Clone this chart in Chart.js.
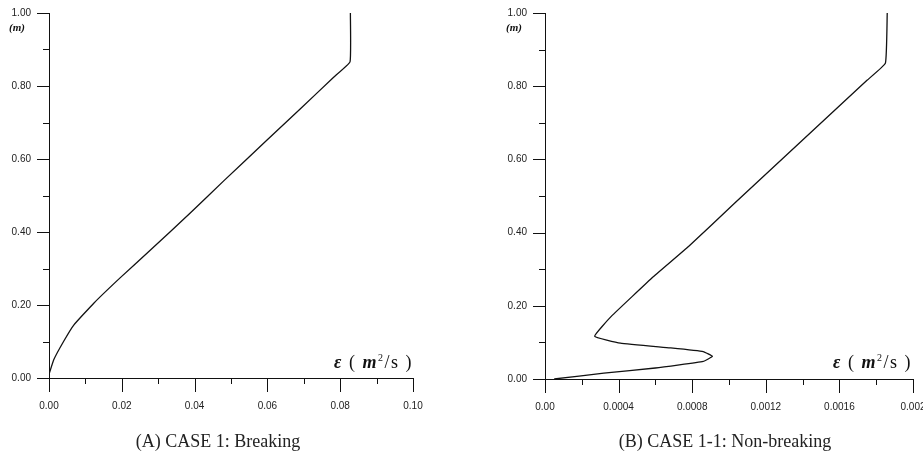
<!DOCTYPE html>
<html>
<head>
<meta charset="utf-8">
<script src="https://cdn.jsdelivr.net/npm/chart.js@4"></script>
<style>
  body { margin: 0; background: #fff; }
  #wrap { position: relative; width: 923px; height: 466px; overflow: hidden; }
  canvas { position: absolute; top: 0; }
  .unit { position: absolute; font-family: "Liberation Serif", serif; font-weight: bold; font-style: italic; font-size: 11px; color: #111; }
  .xtitle { position: absolute; font-family: "Liberation Serif", serif; font-size: 18px; letter-spacing: 1.5px; color: #111; white-space: nowrap; }
  .xtitle i { font-weight: bold; }
  .caption { position: absolute; font-family: "Liberation Serif", serif; font-size: 18px; color: #222; white-space: nowrap; transform: translateX(-50%); }
</style>
</head>
<body>
<div id="wrap">
  <canvas id="chartA" width="460" height="466" style="left:0px"></canvas>
  <canvas id="chartB" width="463" height="466" style="left:460px"></canvas>
  <div class="unit" style="left:9px; top:21px">(m)</div>
  <div class="unit" style="left:506px; top:21px">(m)</div>
  <div class="xtitle" style="left:334px; top:352px"><i>ε</i> ( <i>m</i><sup style="font-size:10px">2</sup>/s )</div>
  <div class="xtitle" style="left:833px; top:352px"><i>ε</i> ( <i>m</i><sup style="font-size:10px">2</sup>/s )</div>
  <div class="caption" style="left:218px; top:431px">(A) CASE 1: Breaking</div>
  <div class="caption" style="left:725px; top:431px">(B) CASE 1-1: Non-breaking</div>
</div>
<script>
// depth (m) vs eddy viscosity
const depthLabels = ['0.00', '0.20', '0.40', '0.60', '0.80', '1.00'];

// (A) breaking
const breakEps = [0.0000, 0.0013, 0.0040, 0.0068, 0.0123, 0.0196, 0.0278, 0.0388, 0.0480, 0.0599, 0.0690, 0.0782, 0.0827, 0.0828];
const breakDepth = [0.01, 0.05, 0.10, 0.145, 0.205, 0.275, 0.35, 0.452, 0.540, 0.652, 0.737, 0.824, 0.866, 1.00];
const breakXLabels = ['0.00', '0.02', '0.04', '0.06', '0.08', '0.10'];

// (B) non-breaking
const nonBreakEps = [0.00005, 0.00032, 0.00060, 0.00086, 0.00091, 0.00086, 0.00068, 0.00041, 0.00027, 0.00036, 0.00059, 0.00078, 0.00103, 0.00139, 0.00175, 0.00185, 0.00186];
const nonBreakDepth = [0.00, 0.016, 0.030, 0.048, 0.062, 0.075, 0.085, 0.098, 0.117, 0.171, 0.28, 0.362, 0.48, 0.648, 0.816, 0.863, 1.00];
const nonBreakXLabels = ['0.00', '0.0004', '0.0008', '0.0012', '0.0016', '0.002'];

const tickMarks = {
    id: 'tickMarks',
    afterDraw(chart) {
        const ctx = chart.ctx;
        const xs = chart.scales.x, ys = chart.scales.y;
        const area = chart.chartArea;
        ctx.save();
        ctx.strokeStyle = '#111';
        ctx.lineWidth = 1;
        ctx.beginPath();
        xs.ticks.forEach(function (t) {
            const px = Math.round(xs.getPixelForValue(t.value)) + 0.5;
            const len = t.label !== '' ? 14 : 6;
            ctx.moveTo(px, area.bottom);
            ctx.lineTo(px, area.bottom + len);
        });
        ys.ticks.forEach(function (t) {
            const py = Math.round(ys.getPixelForValue(t.value)) + 0.5;
            const len = t.label !== '' ? 12 : 6;
            ctx.moveTo(area.left, py);
            ctx.lineTo(area.left - len, py);
        });
        ctx.stroke();
        ctx.restore();
    }
};

function makeChart(id, eps, depth, xMax, xStep, xLabels, pad, yw) {
    const pts = eps.map(function (e, i) { return { x: e, y: depth[i] }; });
    return new Chart(document.getElementById(id), {
        type: 'scatter',
        data: {
            datasets: [{
                data: pts,
                showLine: true,
                borderColor: '#111',
                borderWidth: 1.3,
                pointRadius: 0,
                tension: 0.1,
            }]
        },
        options: {
            responsive: false,
            animation: false,
            layout: { padding: pad },
            plugins: { legend: { display: false }, tooltip: { enabled: false } },
            scales: {
                x: {
                    type: 'linear',
                    min: 0,
                    max: xMax,
                    afterFit: function (s) {
                        s.height = 40;
                        s.paddingLeft = 0;
                        s.paddingRight = 0;
                    },
                    grid: { drawOnChartArea: false, drawTicks: false },
                    border: { color: '#111', width: 1 },
                    ticks: {
                        stepSize: xStep,
                        autoSkip: false,
                        maxRotation: 0,
                        padding: 22,
                        color: '#222',
                        font: { family: 'Liberation Sans', size: 10 },
                        callback: function (v) {
                            const i = Math.round(v / xStep);
                            return i % 2 === 0 ? xLabels[i / 2] : '';
                        }
                    }
                },
                y: {
                    type: 'linear',
                    min: 0,
                    max: 1,
                    afterFit: function (s) {
                        s.width = yw;
                        s.paddingTop = 0;
                        s.paddingBottom = 0;
                    },
                    grid: { drawOnChartArea: false, drawTicks: false },
                    border: { color: '#111', width: 1 },
                    ticks: {
                        stepSize: 0.1,
                        autoSkip: false,
                        padding: 18,
                        color: '#222',
                        font: { family: 'Liberation Sans', size: 10 },
                        callback: function (v) {
                            const i = Math.round(v / 0.1);
                            return i % 2 === 0 ? depthLabels[i / 2] : '';
                        }
                    }
                }
            }
        },
        plugins: [tickMarks]
    });
}

makeChart('chartA', breakEps, breakDepth, 0.10, 0.01, breakXLabels,
    { left: 0, right: 47, top: 13, bottom: 48 }, 49);
makeChart('chartB', nonBreakEps, nonBreakDepth, 0.002, 0.0002, nonBreakXLabels,
    { left: 0, right: 10, top: 13, bottom: 47 }, 85);
</script>
</body>
</html>
